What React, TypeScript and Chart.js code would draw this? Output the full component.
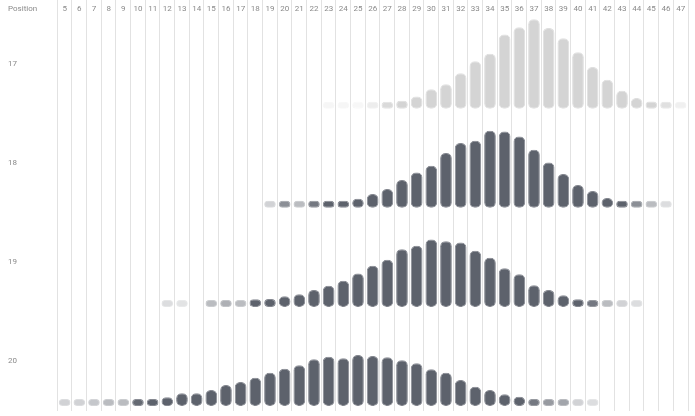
import React, { useEffect, useRef } from "react";
import { Chart, registerables } from "chart.js";

Chart.register(...registerables);

const positions: string[] = [
  "5", "6", "7", "8", "9", "10", "11", "12", "13", "14", "15", "16", "17", "18", "19",
  "20", "21", "22", "23", "24", "25", "26", "27", "28", "29", "30", "31", "32", "33",
  "34", "35", "36", "37", "38", "39", "40", "41", "42", "43", "44", "45", "46", "47",
];

const rowLabels: string[] = ["17", "18", "19", "20"];

// values per position 5..47 (null = no entries)
const row17: (number | null)[] = [
  null, null, null, null, null, null, null, null, null, null, null, null, null, null, null,
  null, null, null, 1.5, 1.5, 1, 3, 6, 8, 12.3, 19.3, 24.3, 35.3, 47.3,
  55, 74, 81.3, 89.3, 80.7, 70.3, 56.3, 41.7, 29, 18, 10.7, 7.3, 5, 2.5,
];

const row18: (number | null)[] = [
  null, null, null, null, null, null, null, null, null, null, null, null, null, null, 2,
  5, 3, 6, 7, 7, 9, 13.7, 18.7, 27.7, 35.3, 42, 54.7, 64.7, 67,
  77, 76.3, 71.3, 58, 45.3, 33.7, 22.7, 16.7, 9.7, 7, 5, 3, 1.5, null,
];

const row19: (number | null)[] = [
  null, null, null, null, null, null, null, 1.5, 1, null, 3, 3.5, 3, 7.7, 8,
  10.7, 12.7, 17, 21, 26, 33.3, 41, 47, 57.7, 61, 67.3, 65.7, 64.3, 56,
  49, 38.7, 32.7, 21.7, 17, 11.7, 7.7, 6, 3, 2, 1.5, null, null, null,
];

const row20: (number | null)[] = [
  2, 2, 2.5, 3, 3, 6.7, 7, 8.7, 12.7, 12.7, 16, 21, 24, 28.3, 33.3,
  37.3, 40.7, 46.7, 49.3, 47.7, 51, 50, 48.7, 45.7, 42.7, 36.7, 33.3, 26, 19.3,
  16, 11.7, 9.3, 6, 4.5, 4, 2, 1.5, null, null, null, null, null, null,
];

const ROW_GAP = 99;
const BASE0 = 5;
const LABEL_OFFSET = 45;
const DOT = 7;
const FONT = "Roboto";
const X_AXIS_H = 17.6;

export default function App() {
  const ref = useRef<HTMLCanvasElement>(null);

  useEffect(() => {
    document.body.style.margin = "0";
    const canvas = ref.current;
    if (!canvas) return;
    const rows = [row17, row18, row19, row20];
    const n = rows.length;

    const datasets = rows.map((vals, r) => {
      const base = BASE0 + ROW_GAP * (n - 1 - r);
      const rgb = r === 0 ? "212,212,212" : "93,98,108";
      const alpha = (v: number | null) =>
        v == null ? 0 : Math.min(1, Math.max(0.18, v / DOT));
      return {
        label: rowLabels[r],
        data: vals.map((v) => (v == null ? null : [base, base + Math.max(v, DOT)])),
        backgroundColor: vals.map((v) => `rgba(${rgb},${alpha(v)})`),
        borderColor: vals.map((v) => `rgba(${rgb},${alpha(v) * 0.75})`),
        borderWidth: 1,
        borderRadius: 5,
        borderSkipped: false,
        grouped: false,
        barPercentage: 0.8,
        categoryPercentage: 1,
      };
    });

    const headerPlugin = {
      id: "header",
      afterDraw(chart: any) {
        const ctx = chart.ctx;
        ctx.save();
        ctx.font = `8px ${FONT}`;
        ctx.fillStyle = "#8a8a8a";
        ctx.textAlign = "left";
        ctx.textBaseline = "middle";
        ctx.fillText("Position", 8, 9);
        ctx.restore();
      },
    };

    const chart = new Chart(canvas, {
      type: "bar",
      data: { labels: positions, datasets: datasets as any },
      options: {
        animation: false,
        responsive: true,
        maintainAspectRatio: false,
        layout: { padding: { top: 0, left: 8, right: 7, bottom: 5 } },
        plugins: {
          legend: { display: false },
          tooltip: { enabled: false },
        },
        scales: {
          x: {
            position: "top",
            offset: true,
            border: { display: false },
            afterFit(scale: any) {
              scale.height = X_AXIS_H;
            },
            grid: {
              offset: true,
              color: "#e2e2e2",
              lineWidth: 1,
              drawTicks: true,
              tickLength: 20,
            },
            ticks: {
              autoSkip: false,
              maxRotation: 0,
              minRotation: 0,
              padding: -16,
              color: "#8a8a8a",
              font: { family: FONT, size: 8 },
            },
          },
          y: {
            min: 0,
            max: 393,
            border: { display: false },
            grid: { display: false },
            afterFit(scale: any) {
              scale.width = 49.3;
              scale.paddingTop = 0;
              scale.paddingBottom = 0;
            },
            afterBuildTicks(scale: any) {
              scale.ticks = rowLabels
                .map((_, r) => ({ value: BASE0 + ROW_GAP * (n - 1 - r) + LABEL_OFFSET }))
                .reverse();
            },
            ticks: {
              crossAlign: "far",
              color: "#8a8a8a",
              font: { family: FONT, size: 8 },
              callback: (val: any) => {
                const rr = Math.round((Number(val) - BASE0 - LABEL_OFFSET) / ROW_GAP);
                return rowLabels[n - 1 - rr];
              },
            },
          },
        },
      },
      plugins: [headerPlugin],
    });

    return () => chart.destroy();
  }, []);

  return (
    <div style={{ position: "relative", width: 695, height: 416 }}>
      <canvas ref={ref} />
    </div>
  );
}
